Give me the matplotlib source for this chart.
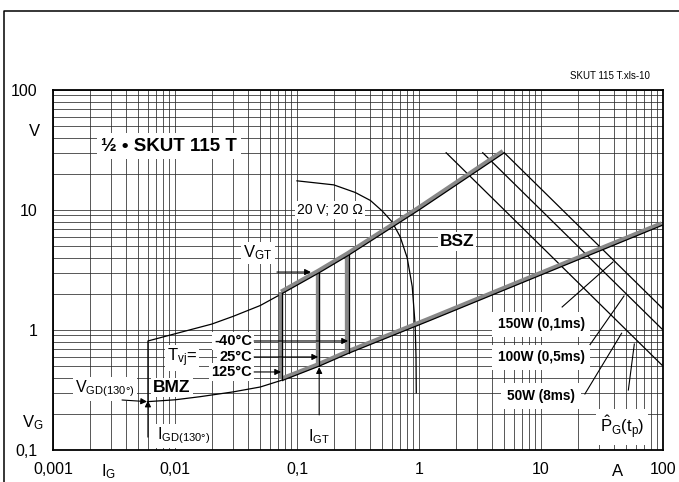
import matplotlib

matplotlib.use("Agg")
import matplotlib.pyplot as plt
import matplotlib.transforms as mtransforms
from matplotlib.lines import Line2D
from matplotlib.ticker import FixedLocator, FixedFormatter, NullFormatter, LogLocator

plt.rcParams["font.family"] = ["Liberation Sans", "DejaVu Sans"]
plt.rcParams["mathtext.fontset"] = "custom"
plt.rcParams["mathtext.rm"] = "Liberation Sans"
plt.rcParams["mathtext.it"] = "Liberation Sans"

# axis ticks
x_ticks = [0.001, 0.01, 0.1, 1, 10, 100]
x_labels = ["0,001", "0,01", "0,1", "1", "10", "100"]
y_ticks = [0.1, 1, 10, 100]
y_labels = ["0,1", "1", "10", "100"]

# thin boundary of the BMZ region
bmz_upper_i = [0.006, 0.006, 0.01, 0.02, 0.03, 0.05, 0.076]
bmz_upper_v = [0.253, 0.81, 0.93, 1.12, 1.3, 1.6, 2.02]
bmz_lower_i = [0.006, 0.01, 0.016, 0.03, 0.05, 0.076]
bmz_lower_v = [0.253, 0.262, 0.278, 0.305, 0.335, 0.383]

# thick grey boundary (BSZ)
bsz_upper_i = [0.076, 0.152, 0.265, 1.0, 5.0]
bsz_upper_v = [2.02, 3.0, 4.2, 10.0, 30.0]
bsz_lower_i = [0.076, 0.152, 0.265, 1.23, 100]
bsz_lower_v = [0.38, 0.50, 0.64, 1.2, 7.5]
# vertical lines for Tvj = 125, 25, -40 degC
vgt_i = [0.076, 0.152, 0.265]
vgt_lo = [0.38, 0.50, 0.64]
vgt_hi = [2.02, 3.0, 4.2]

# load line 20 V; 20 Ohm
load_i = [0.1, 0.2, 0.3, 0.4, 0.5, 0.6, 0.7, 0.8, 0.88, 0.93, 0.945, 0.95]
load_v = [17.5, 16.2, 14.0, 12.0, 9.8, 8.0, 6.0, 4.0, 2.3, 1.1, 0.6, 0.3]

# peak gate power lines (end points)
power_labels = ["50W (8ms)", "100W (0,5ms)", "150W (0,1ms)"]
power_i = [[1.67, 100], [3.33, 100], [5.0, 100]]
power_v = [[30, 0.5], [30, 1.0], [30, 1.5]]

fig = plt.figure(figsize=(6.79, 4.82), dpi=100)
ax = fig.add_axes([53 / 679, 1 - 450 / 482, 610 / 679, 360 / 482])
ax.set_xscale("log")
ax.set_yscale("log")
ax.set_xlim(0.001, 100)
ax.set_ylim(0.1, 100)

ax.xaxis.set_major_locator(FixedLocator(x_ticks))
ax.xaxis.set_major_formatter(FixedFormatter(x_labels))
ax.yaxis.set_major_locator(FixedLocator(y_ticks))
ax.yaxis.set_major_formatter(FixedFormatter(y_labels))
for a in (ax.xaxis, ax.yaxis):
    a.set_minor_locator(LogLocator(base=10, subs=range(2, 10)))
    a.set_minor_formatter(NullFormatter())
ax.tick_params(which="both", length=0, labelsize=11.5)
ax.tick_params(axis="x", pad=9)
ax.tick_params(axis="y", pad=11)
ax.grid(which="both", color="#2a2a2a", lw=0.55)
for s in ax.spines.values():
    s.set_linewidth(1.3)

# thin lines
ax.plot(bmz_upper_i, bmz_upper_v, color="k", lw=0.9)
ax.plot(bmz_lower_i, bmz_lower_v, color="k", lw=0.9)
ax.plot(load_i, load_v, color="k", lw=0.9)
for pi, pv in zip(power_i, power_v):
    ax.plot(pi, pv, color="k", lw=0.9)

# thick grey lines with black edge
shift = mtransforms.offset_copy(ax.transData, fig=fig, x=-1.4, y=1.6, units="dots")
segs = [(bsz_upper_i, bsz_upper_v), (bsz_lower_i, bsz_lower_v)]
segs += [([i, i], [lo, hi]) for i, lo, hi in zip(vgt_i, vgt_lo, vgt_hi)]
for si, sv in segs:
    ax.plot(si, sv, color="#888888", lw=3.1, transform=shift, solid_capstyle="butt")
for si, sv in segs:
    ax.plot(si, sv, color="k", lw=0.9)

white = dict(fc="white", ec="none", pad=1.5)
arrow = dict(arrowstyle="-|>", color="k", lw=0.8, mutation_scale=9, shrinkA=0, shrinkB=0)

ax.text(0.00893, 34.1, "½ • SKUT 115 T", fontsize=13.5, fontweight="bold",
        ha="center", va="center", bbox=dict(fc="white", ec="none", pad=3))
ax.text(2.05, 5.46, "BSZ", fontsize=12.5, fontweight="bold", ha="center", va="center",
        bbox=white)
ax.text(0.00945, 0.332, "BMZ", fontsize=12.5, fontweight="bold", ha="center", va="center",
        bbox=white)
ax.text(0.186, 10.0, "20 V; 20 Ω", fontsize=10, ha="center", va="center", bbox=white)

ax.text(0.0479, 4.38, r"$\mathrm{V_{GT}}$", fontsize=12, ha="center", va="center",
        bbox=white)
ax.annotate("", xy=(0.130, 3.04), xytext=(0.0685, 3.04), arrowprops=arrow)

ax.text(0.0114, 0.584, r"$\mathrm{T_{vj}}$=", fontsize=12, ha="center", va="center",
        bbox=white)
for lab, v, i_end in zip(["-40°C", "25°C", "125°C"], [0.81, 0.596, 0.447],
                         [0.262, 0.149, 0.074]):
    ax.text(0.0428, v, lab, fontsize=10.5, fontweight="bold", ha="right", va="center",
            bbox=white)
    ax.annotate("", xy=(i_end, v), xytext=(0.0445, v), arrowprops=arrow)

ax.text(0.00267, 0.322, r"$\mathrm{V_{GD(130°)}}$", fontsize=11.5, ha="center",
        va="center", bbox=white)
ax.annotate("", xy=(0.0059, 0.253), xytext=(0.00368, 0.261), arrowprops=arrow)
ax.text(0.0071, 0.131, r"$\mathrm{I_{GD(130°)}}$", fontsize=11.5, ha="left",
        va="center", bbox=white)
ax.annotate("", xy=(0.006, 0.258), xytext=(0.006, 0.128), arrowprops=arrow)
ax.text(0.151, 0.128, r"$\mathrm{I_{GT}}$", fontsize=11.5, ha="center", va="center",
        bbox=white)
ax.annotate("", xy=(0.152, 0.49), xytext=(0.152, 0.196), arrowprops=arrow)

# power labels with leaders
pbox = dict(fc="white", ec="none", pad=4)
ax.text(10, 1.12, power_labels[2], fontsize=9.8, fontweight="bold", ha="center",
        va="center", bbox=pbox)
ax.plot([14.9, 38.9], [1.555, 3.69], color="k", lw=0.8)
ax.text(10, 0.59, power_labels[1], fontsize=9.8, fontweight="bold", ha="center",
        va="center", bbox=pbox)
ax.plot([22.9, 47.9], [0.656, 1.92], color="k", lw=0.8)
ax.text(10, 0.282, power_labels[0], fontsize=9.8, fontweight="bold", ha="center",
        va="center", bbox=pbox)
ax.plot([22.9, 45.8], [0.293, 0.94], color="k", lw=0.8)
ax.text(46.1, 0.155, r"$\mathrm{\hat{P}_G(t_p)}$", fontsize=12, ha="center",
        va="center", bbox=dict(fc="white", ec="none", pad=3))
ax.plot([52.0, 58.2], [0.316, 0.764], color="k", lw=0.8)

# texts outside the axes
fig.text(650 / 679, 1 - 76 / 482, "SKUT 115 T.xls-10", fontsize=7, ha="right",
         va="center")
fig.text(34 / 679, 1 - 132 / 482, "V", fontsize=12, ha="center", va="center")
fig.text(33 / 679, 1 - 423 / 482, r"$\mathrm{V_G}$", fontsize=12, ha="center",
         va="center")
fig.text(109 / 679, 1 - 472 / 482, r"$\mathrm{I_G}$", fontsize=12, ha="center",
         va="center")
fig.text(618 / 679, 1 - 471 / 482, "A", fontsize=12, ha="center", va="center")

# outer frame (top and left)
fig.add_artist(Line2D([4 / 679, 4 / 679, 1], [0, 1 - 11 / 482, 1 - 11 / 482],
                      color="k", lw=1.1, transform=fig.transFigure))

fig.savefig("out.png", dpi=100)
